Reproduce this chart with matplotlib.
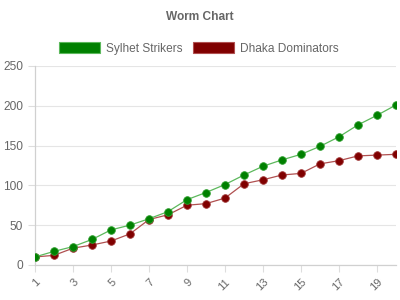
import matplotlib
matplotlib.use("Agg")
import matplotlib.pyplot as plt
from matplotlib.patches import Patch

plt.rcParams['font.family'] = ['Liberation Sans', 'DejaVu Sans']

# Overs and cumulative runs
overs = list(range(1, 21))
sylhet = [10, 17, 23, 32, 44, 50, 58, 67, 82, 91, 101, 113, 124, 132, 139, 149, 161, 176, 188, 201]
dhaka = [10, 12, 21, 25, 30, 39, 57, 63, 75, 77, 84, 102, 107, 113, 115, 127, 131, 137, 138, 139]

fig = plt.figure(figsize=(4, 3), dpi=100)
ax = fig.add_axes([0.0875, 0.117, 0.9025, 0.663])

ax.plot(overs, sylhet, color='#5cb85c', linewidth=0.9, marker='o', markersize=5.5,
        markerfacecolor='#008000', markeredgecolor='#2e9e2e', markeredgewidth=0.6, zorder=3)
ax.plot(overs, dhaka, color='#b05050', linewidth=0.9, marker='o', markersize=5.5,
        markerfacecolor='#800000', markeredgecolor='#a03838', markeredgewidth=0.6, zorder=2)

ax.set_xlim(1, 20)
ax.set_ylim(0, 250)
ax.set_yticks(range(0, 251, 50))
ax.set_xticks(range(1, 20, 2))
ax.tick_params(axis='x', labelrotation=45, labelsize=8, colors='#666666', length=5, width=0.8)
ax.tick_params(axis='y', labelsize=8.6, colors='#666666', length=5, width=0.8)
for lbl in ax.get_xticklabels():
    lbl.set_ha('right')
    lbl.set_rotation_mode('anchor')
ax.tick_params(axis='x', color='#dddddd')
ax.tick_params(axis='y', color='#dddddd')

ax.grid(axis='y', color='#e5e5e5', linewidth=0.8)
ax.set_axisbelow(True)
for side in ['top', 'right']:
    ax.spines[side].set_visible(False)
for side in ['left', 'bottom']:
    ax.spines[side].set_color('#d0d0d0')
    ax.spines[side].set_linewidth(0.9)

fig.text(0.5, 0.945, "Worm Chart", ha='center', va='center', fontsize=8.6,
         fontweight='bold', color='#666666')

handles = [Patch(facecolor='#008000', edgecolor='#5cb85c', linewidth=0.8),
           Patch(facecolor='#800000', edgecolor='#b05050', linewidth=0.8)]
fig.legend(handles, ['Sylhet Strikers', 'Dhaka Dominators'], loc='center',
           bbox_to_anchor=(0.497, 0.838), ncol=2, frameon=False, fontsize=8.6,
           handlelength=3.4, handleheight=1.0, handletextpad=0.5, columnspacing=0.9,
           labelcolor='#666666')

fig.savefig('out.png', dpi=100)
